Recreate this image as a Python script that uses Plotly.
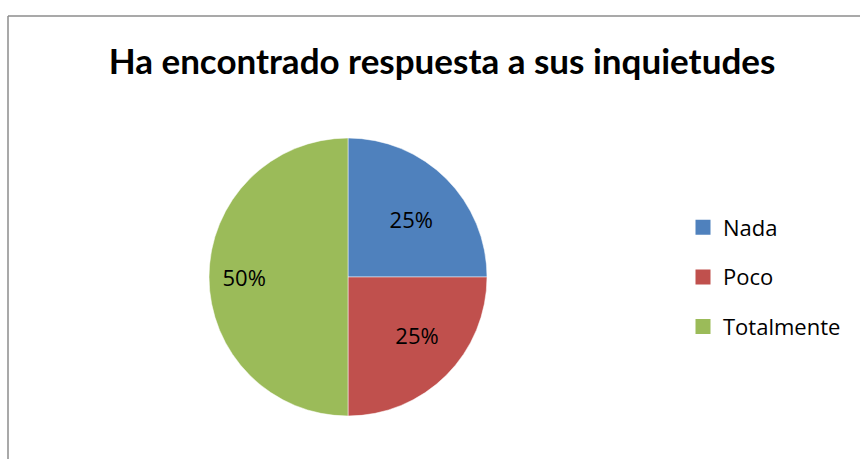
import plotly.graph_objects as go

labels = ["Nada", "Poco", "Totalmente"]
values = [25, 25, 50]
colors = ["#4F81BD", "#C0504D", "#9BBB59"]

W, H = 860, 459

fig = go.Figure()

# nudge the labels with non-breaking spaces to sit where the original has them
sp = "\u00a0"
templates = [sp * 2 + "%{percent}", sp * 4 + "%{percent}", "%{percent}" + sp * 12]

# pie itself, legend drawn by dummy traces so the item spacing can be set
fig.add_trace(go.Pie(
    labels=labels,
    values=values,
    sort=False,
    direction="clockwise",
    rotation=0,
    marker=dict(colors=colors, line=dict(color="white", width=0.5)),
    texttemplate=templates,
    textposition="inside",
    insidetextorientation="horizontal",
    textfont=dict(family="Open Sans", size=22, color="black"),
    hoverinfo="label+percent",
    showlegend=False,
    domain=dict(x=[209 / W, 487 / W], y=[(H - 416) / H, (H - 138) / H]),
))

for lab, col in zip(labels, colors):
    fig.add_trace(go.Scatter(
        x=[None], y=[None], mode="markers", name=lab, legendgroup=lab,
        marker=dict(symbol="square", size=15, color=col),
    ))

fig.update_layout(
    width=W,
    height=H,
    margin=dict(l=0, r=0, t=0, b=0),
    paper_bgcolor="white",
    plot_bgcolor="white",
    font=dict(family="Open Sans", color="black"),
    xaxis=dict(visible=False),
    yaxis=dict(visible=False),
    title=dict(
        text="<b>Ha encontrado respuesta a sus inquietudes</b>",
        x=442 / W, xanchor="center",
        y=1 - 62 / H, yanchor="middle",
        font=dict(size=35, family="Lato", color="black"),
    ),
    legend=dict(
        x=683 / W, xanchor="left",
        y=1 - 277 / H, yanchor="middle",
        font=dict(size=22, family="Open Sans"),
        tracegroupgap=18,
        itemwidth=30,
    ),
    shapes=[
        dict(type="line", xref="paper", yref="paper",
             x0=8 / W, x1=1.01, y0=1 - 16 / H, y1=1 - 16 / H,
             line=dict(color="#8c8c8c", width=1.5)),
        dict(type="line", xref="paper", yref="paper",
             x0=8 / W, x1=8 / W, y0=1 - 16 / H, y1=-0.01,
             line=dict(color="#8c8c8c", width=1.5)),
    ],
)

fig.write_html("out.html", config={"displayModeBar": False},
               post_script="document.body.style.margin='0';")
